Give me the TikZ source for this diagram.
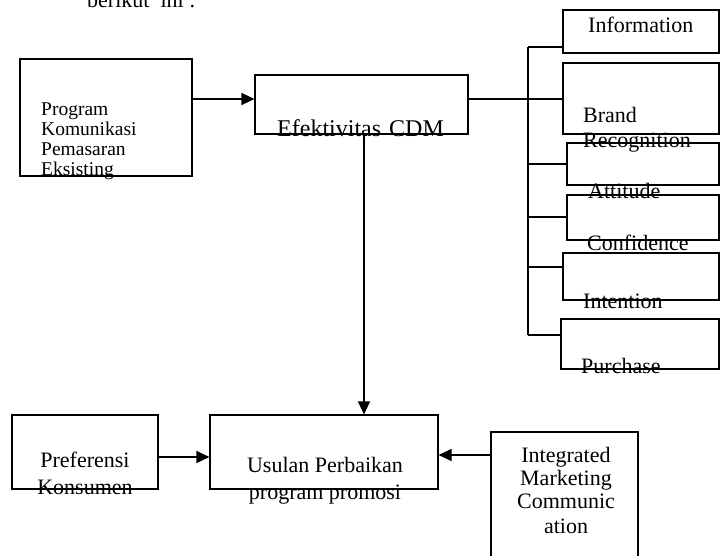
\documentclass[tikz,border=0pt]{standalone}
\usepackage{fontspec}
\setmainfont{Liberation Serif}
\usetikzlibrary{arrows.meta}
\tikzset{
  box/.style={draw,line width=1.1pt,inner sep=0pt},
  lbl/.style={anchor=base west,inner sep=0pt,font=\fontsize{22}{24}\selectfont},
  clbl/.style={lbl,anchor=base},
  arr/.style={line width=1.1pt,-{Triangle[length=13pt,width=12pt]}},
  link/.style={line width=1.1pt}
}
\begin{document}
\begin{tikzpicture}[x=1pt,y=-1pt]
\useasboundingbox (0,0) rectangle (725,555);
\node[lbl] (head) at (87,7) {berikut\ \ ini :};
% left and middle boxes
\node[box,minimum width=172pt,minimum height=117pt] (prog) at (106,117.5) {};
\foreach \t [count=\i from 0] in {Program,Komunikasi,Pemasaran,Eksisting}
  \node[lbl,font=\fontsize{19.5}{20}\selectfont] (prog-\i) at (41,115+20*\i) {\t};
\node[box,minimum width=213pt,minimum height=59pt] (efek) at (361.5,104.5) {};
\node[lbl,font=\fontsize{24}{26}\selectfont] (efek-t) at (277,136) {Efektivitas\hspace{2pt} CDM};
% right column
\node[box,minimum width=156pt,minimum height=43pt] (info) at (641,31.5) {};
\node[lbl] (info-t) at (588,32) {Information};
\node[box,minimum width=156pt,minimum height=71pt] (brand) at (641,98.5) {};
\node[lbl] (brand-t) at (583,122) {Brand};
\node[lbl] (brand-u) at (583,147) {Recognition};
\node[box,minimum width=152pt,minimum height=42pt] (att) at (643,164) {};
\node[lbl] (att-t) at (588,198) {Attitude};
\node[box,minimum width=152pt,minimum height=45pt] (conf) at (643,217.5) {};
\node[lbl] (conf-t) at (587,250) {Confidence};
\node[box,minimum width=156pt,minimum height=47pt] (intn) at (641,276.5) {};
\node[lbl] (intn-t) at (583,308) {Intention};
\node[box,minimum width=158pt,minimum height=50pt] (purch) at (640,344) {};
\node[lbl] (purch-t) at (581,373) {Purchase};
% bottom row
\node[box,minimum width=146pt,minimum height=74pt] (pref) at (85,452) {};
\node[clbl] (pref-t) at (85,467) {Preferensi};
\node[clbl] (pref-u) at (85,494) {Konsumen};
\node[box,minimum width=228pt,minimum height=74pt] (usul) at (324,452) {};
\node[clbl] (usul-t) at (325,472) {Usulan Perbaikan};
\node[clbl] (usul-u) at (325,499) {program promosi};
\node[box,minimum width=147pt,minimum height=133pt] (imc) at (564.5,498.5) {};
\foreach \t/\y [count=\i] in {Integrated/462,Marketing/485,Communic/508,ation/533}
  \node[clbl] (imc-\i) at (566,\y) {\t};
% connectors
\coordinate (hub) at (528,99);
\draw[arr] (prog.east |- hub) -- (efek.west |- hub);
\draw[link] (efek.east |- hub) -- (hub);
\draw[link] (hub |- 0,47) -- (hub |- 0,335);
\foreach \n/\y in {info/47,brand/99,att/164,conf/217,intn/267,purch/335}
  \draw[link] (hub |- 0,\y) -- (\n.west |- 0,\y);
\draw[arr] (364,0 |- efek.south) -- (364,0 |- usul.north);
\draw[arr] (pref.east |- 0,457) -- (usul.west |- 0,457);
\draw[arr] (imc.west |- 0,455) -- (usul.east |- 0,455);
\end{tikzpicture}
\end{document}
